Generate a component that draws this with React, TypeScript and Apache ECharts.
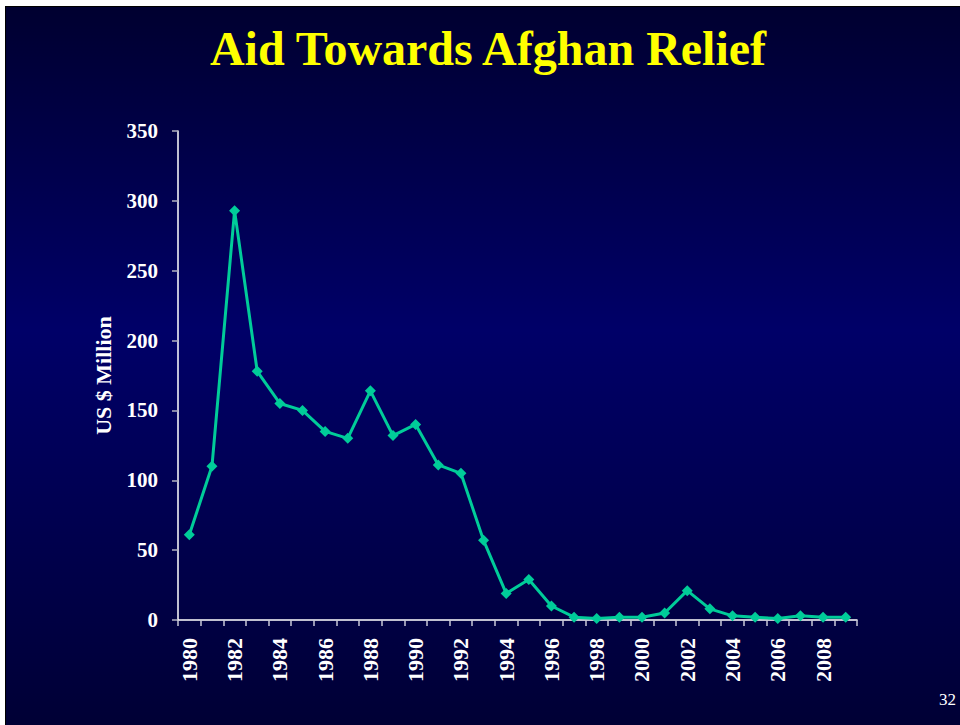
import React, { useEffect, useRef } from "react";
import * as echarts from "echarts";

const years: string[] = [
  "1980", "1981", "1982", "1983", "1984", "1985", "1986", "1987", "1988", "1989",
  "1990", "1991", "1992", "1993", "1994", "1995", "1996", "1997", "1998", "1999",
  "2000", "2001", "2002", "2003", "2004", "2005", "2006", "2007", "2008", "2009",
];
const aidValues: number[] = [
  61, 110, 293, 178, 155, 150, 135, 130, 164, 132,
  140, 111, 105, 57, 19, 29, 10, 2, 1, 2,
  2, 5, 21, 8, 3, 2, 1, 3, 2, 2,
];
const titleText = "Aid Towards Afghan Relief";
const yAxisName = "US $ Million";
const pageNumber = "32";

const FONT = "'Liberation Serif', 'Times New Roman', serif";

export default function App() {
  const ref = useRef<HTMLDivElement>(null);
  useEffect(() => {
    if (!ref.current) return;
    const chart = echarts.init(ref.current, undefined, { renderer: "svg" });
    chart.setOption({
      animation: false,
      backgroundColor: {
        type: "linear",
        x: 0, y: 0, x2: 0, y2: 1,
        colorStops: [
          { offset: 0, color: "#000030" },
          { offset: 0.45, color: "#000068" },
          { offset: 1, color: "#000035" },
        ],
      },
      title: {
        text: titleText,
        left: 477,
        top: 12,
        textAlign: "center",
        textStyle: {
          color: "#ffff00",
          fontFamily: FONT,
          fontWeight: "bold",
          fontSize: 48,
        },
      },
      graphic: [
        {
          type: "text",
          right: 4,
          top: 684,
          style: {
            text: pageNumber,
            fill: "#ffffff",
            font: `17px ${FONT}`,
          },
        },
      ],
      grid: { left: 172, top: 124, right: 103, bottom: 105 },
      xAxis: {
        type: "category",
        data: years,
        boundaryGap: true,
        axisLine: { lineStyle: { color: "#ffffff", width: 1.5 } },
        axisTick: {
          show: true,
          interval: 0,
          length: 6,
          lineStyle: { color: "#c8c8d8", width: 1.5 },
        },
        axisLabel: {
          interval: 1,
          rotate: 90,
          color: "#ffffff",
          fontFamily: FONT,
          fontWeight: "bold",
          fontSize: 22,
          margin: 18,
        },
        splitLine: { show: false },
      },
      yAxis: {
        type: "value",
        min: 0,
        max: 350,
        interval: 50,
        name: yAxisName,
        nameLocation: "middle",
        nameGap: 64,
        nameRotate: 90,
        nameTextStyle: {
          color: "#ffffff",
          fontFamily: FONT,
          fontWeight: "bold",
          fontSize: 22,
        },
        axisLine: { show: true, lineStyle: { color: "#ffffff", width: 1.5 } },
        axisTick: {
          show: true,
          length: 6,
          lineStyle: { color: "#b0b0c0", width: 1.5 },
        },
        axisLabel: {
          color: "#ffffff",
          fontFamily: FONT,
          fontWeight: "bold",
          fontSize: 21,
          margin: 20,
        },
        splitLine: { show: false },
      },
      series: [
        {
          type: "line",
          data: aidValues,
          symbol: "diamond",
          symbolSize: 11,
          lineStyle: { color: "#00cc99", width: 3 },
          itemStyle: { color: "#00cc99" },
        },
      ],
    });
    return () => chart.dispose();
  }, []);
  return (
    <div
      ref={ref}
      style={{
        position: "fixed",
        left: 5,
        top: 6,
        width: 955,
        height: 719,
        borderLeft: "1px solid #000000",
        borderTop: "1px solid #000000",
        boxSizing: "border-box",
      }}
    />
  );
}
